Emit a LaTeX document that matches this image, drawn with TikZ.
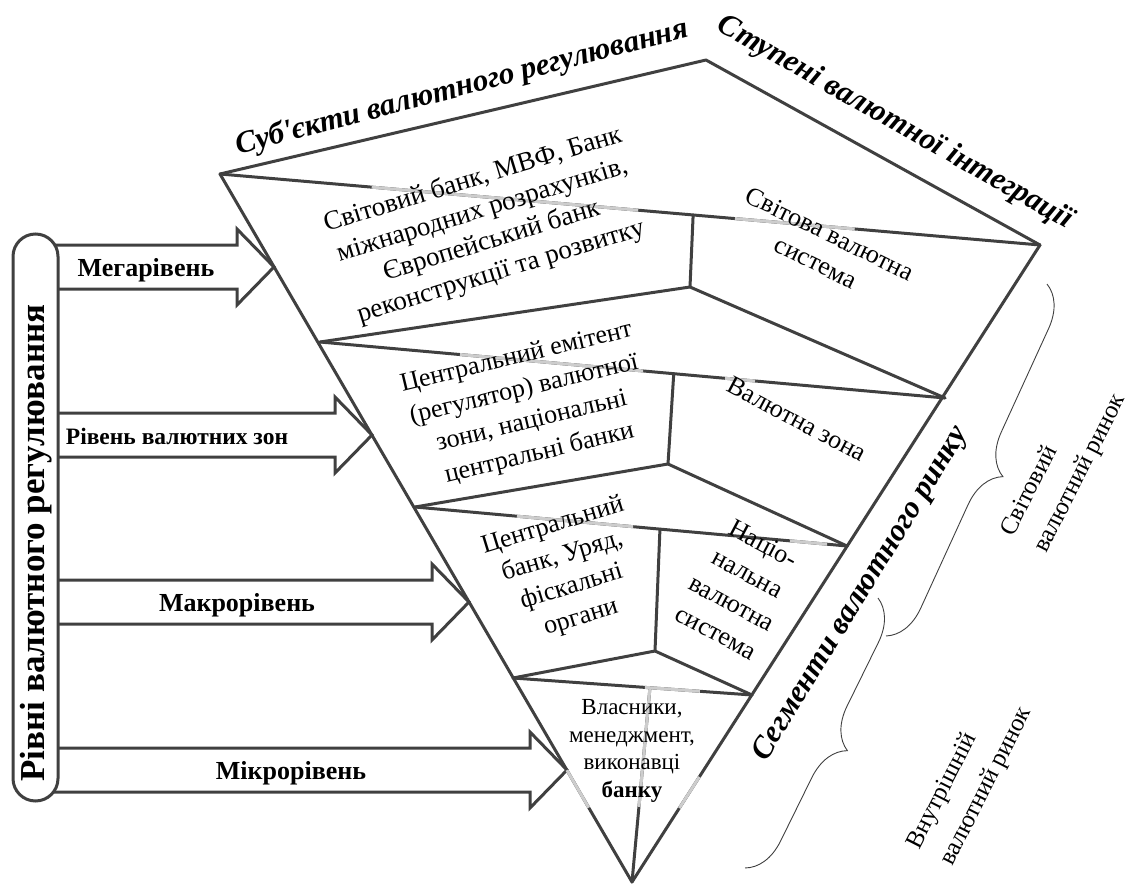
\documentclass[tikz,border=0pt]{standalone}
\usepackage{fontspec}
\setmainfont{Liberation Serif}[Ligatures=TeXOff]
\usetikzlibrary{calc,decorations.pathreplacing}
\definecolor{ln}{HTML}{404040}
\definecolor{lg}{HTML}{CDCDCD}
\begin{document}
\begin{tikzpicture}[x=1pt,y=-1pt,
  edge/.style={draw=ln,line width=3pt,line cap=round,line join=round},
  fadeseg/.style={draw=lg,line width=3pt,line cap=butt},
  arrowshape/.style={draw=ln,line width=3pt,line join=miter,fill=white},
  blk/.style={align=center,inner sep=0pt,font=\fontsize{26}{32}\selectfont},
  lbl/.style={inner sep=0pt,font=\bfseries\fontsize{26}{30}\selectfont},
  ttl/.style={inner sep=0pt,font=\bfseries\itshape\fontsize{31}{35}\selectfont},
  side/.style={align=left,inner sep=0pt,font=\fontsize{25}{37}\selectfont},
  bracestyle/.style={draw=ln,line width=0.9pt,decorate}]
\useasboundingbox (0,0) rectangle (1136,886);

% ---- block arrows
\draw[arrowshape] (35,245) -- (237,245) -- (237,229) -- (274,267) -- (237,305) -- (237,289) -- (35,289) -- cycle;
\draw[arrowshape] (35,413) -- (335,413) -- (335,397) -- (372,435) -- (335,473) -- (335,457) -- (35,457) -- cycle;
\draw[arrowshape] (35,580) -- (432,580) -- (432,564) -- (469,602) -- (432,640) -- (432,624) -- (35,624) -- cycle;
\draw[arrowshape] (35,748) -- (530,748) -- (530,732) -- (567,770) -- (530,808) -- (530,792) -- (35,792) -- cycle;

% ---- left bar
\draw[draw=ln,line width=3pt,fill=white,rounded corners=22.5pt] (13,234) rectangle (58,801);
\node[rotate=90,inner sep=0pt,font=\bfseries\fontsize{35}{38}\selectfont] (bar) at (36,543) {Рівні валютного регулювання};

\node[lbl] (mega) at (146,270) {Мегарівень};
\node[lbl,font=\bfseries\fontsize{23.5}{28}\selectfont] (zon) at (177,436) {Рівень валютних зон};
\node[lbl] (makro) at (237,605) {Макрорівень};
\node[lbl] (mikro) at (291,773) {Мікрорівень};

% ---- pyramid points
\coordinate (A) at (706,60);
\coordinate (L0) at (220,174);
\coordinate (R0) at (1040,245);
\coordinate (T) at (632,882);
\coordinate (L1) at (320,342);
\coordinate (B1) at (690,287);
\coordinate (R1) at (945,398);
\coordinate (L2) at (415,507);
\coordinate (B2) at (668,464);
\coordinate (R2) at (847,546);
\coordinate (L3) at (513,678);
\coordinate (B3) at (655,651);
\coordinate (R3) at (752,695);
\coordinate (F0) at ($(L0)!0.577!(R0)$);
\coordinate (F1) at ($(L1)!0.566!(R1)$);
\coordinate (F2) at ($(L2)!0.567!(R2)$);
\coordinate (F3) at ($(L3)!0.573!(R3)$);

\draw[edge] (L0) -- (A) -- (R0);
\draw[edge] (L0) -- (T) -- (R0);
\draw[edge] (L0) -- (R0);
\draw[edge] (F0) -- (B1);
\draw[edge] (L1) -- (B1) -- (R1);
\draw[edge] (L1) -- (R1);
\draw[edge] (F1) -- (B2);
\draw[edge] (L2) -- (B2) -- (R2);
\draw[edge] (L2) -- (R2);
\draw[edge] (F2) -- (B3);
\draw[edge] (L3) -- (B3) -- (R3);
\draw[edge] (L3) -- (R3);
\draw[edge] (F3) -- (T);

% light parts of the lines behind the texts
\draw[fadeseg] ($(L0)!0.185!(R0)$) -- ($(L0)!0.51!(R0)$);
\draw[fadeseg] ($(L0)!0.628!(R0)$) -- ($(L0)!0.774!(R0)$);
\draw[fadeseg] ($(L1)!0.224!(R1)$) -- ($(L1)!0.517!(R1)$);
\draw[fadeseg] ($(L1)!0.648!(R1)$) -- ($(L1)!0.696!(R1)$);
\draw[fadeseg] ($(L2)!0.236!(R2)$) -- ($(L2)!0.505!(R2)$);
\draw[fadeseg] ($(L2)!0.868!(R2)$) -- ($(L2)!0.954!(R2)$);
\draw[fadeseg] ($(L3)!0.552!(R3)$) -- ($(L3)!0.782!(R3)$);
\draw[fadeseg] (F3) -- ($(F3)!0.613!(T)$);
\draw[fadeseg] ($(L0)!0.842!(T)$) -- ($(L0)!0.895!(T)$);
\draw[fadeseg] ($(R0)!0.835!(T)$) -- ($(R0)!0.884!(T)$);

% ---- texts inside pyramid
\node[blk,rotate=17,font=\fontsize{27}{32}\selectfont] (t1) at (487,226) {Світовий банк, МВФ, Банк\\міжнародних розрахунків,\\Європейський банк\\реконструкції та розвитку};
\node[blk,rotate=13.5,font=\fontsize{26}{33}\selectfont] (t2) at (528,406) {Центральний емітент\\(регулятор) валютної\\зони, національні\\центральні банки};
\node[blk,rotate=17] (t3) at (567,572) {Центральний\\банк, Уряд,\\фіскальні\\органи};
\node[blk,font=\fontsize{23}{27.5}\selectfont] (t4) at (632,751) {Власники,\\менеджмент,\\виконавці\\\textbf{банку}};

\node[blk,rotate=-26] (r1) at (823,248) {Світова валютна\\система};
\node[blk,rotate=-28] (r2) at (797,419) {Валютна зона};
\node[blk,rotate=-28,font=\fontsize{26}{33.5}\selectfont] (r3) at (740,588) {Націо-\\нальна\\валютна\\система};

% ---- titles
\node[ttl,rotate=14.6] (subj) at (462,88) {Суб'єкти валютного регулювання};
\node[ttl,rotate=-29.6] (stup) at (895,123) {Ступені валютної інтеграції};
\node[ttl,rotate=58.5] (segm) at (861,594) {Сегменти валютного ринку};

% ---- braces
\coordinate (P1) at (1047,284);
\coordinate (Q1) at (886,636);
\coordinate (P2) at (878,598);
\coordinate (Q2) at (745,868);
\draw[bracestyle,decoration={brace,amplitude=40pt}] (P1) -- (Q1);
\draw[bracestyle,decoration={brace,amplitude=40pt}] (P2) -- (Q2);
\node[side,rotate=63] (sv) at (1064,465) {Світовий\\валютний ринок};
\node[side,rotate=63] (vn) at (970,778) {Внутрішній\\валютний ринок};
\end{tikzpicture}
\end{document}
